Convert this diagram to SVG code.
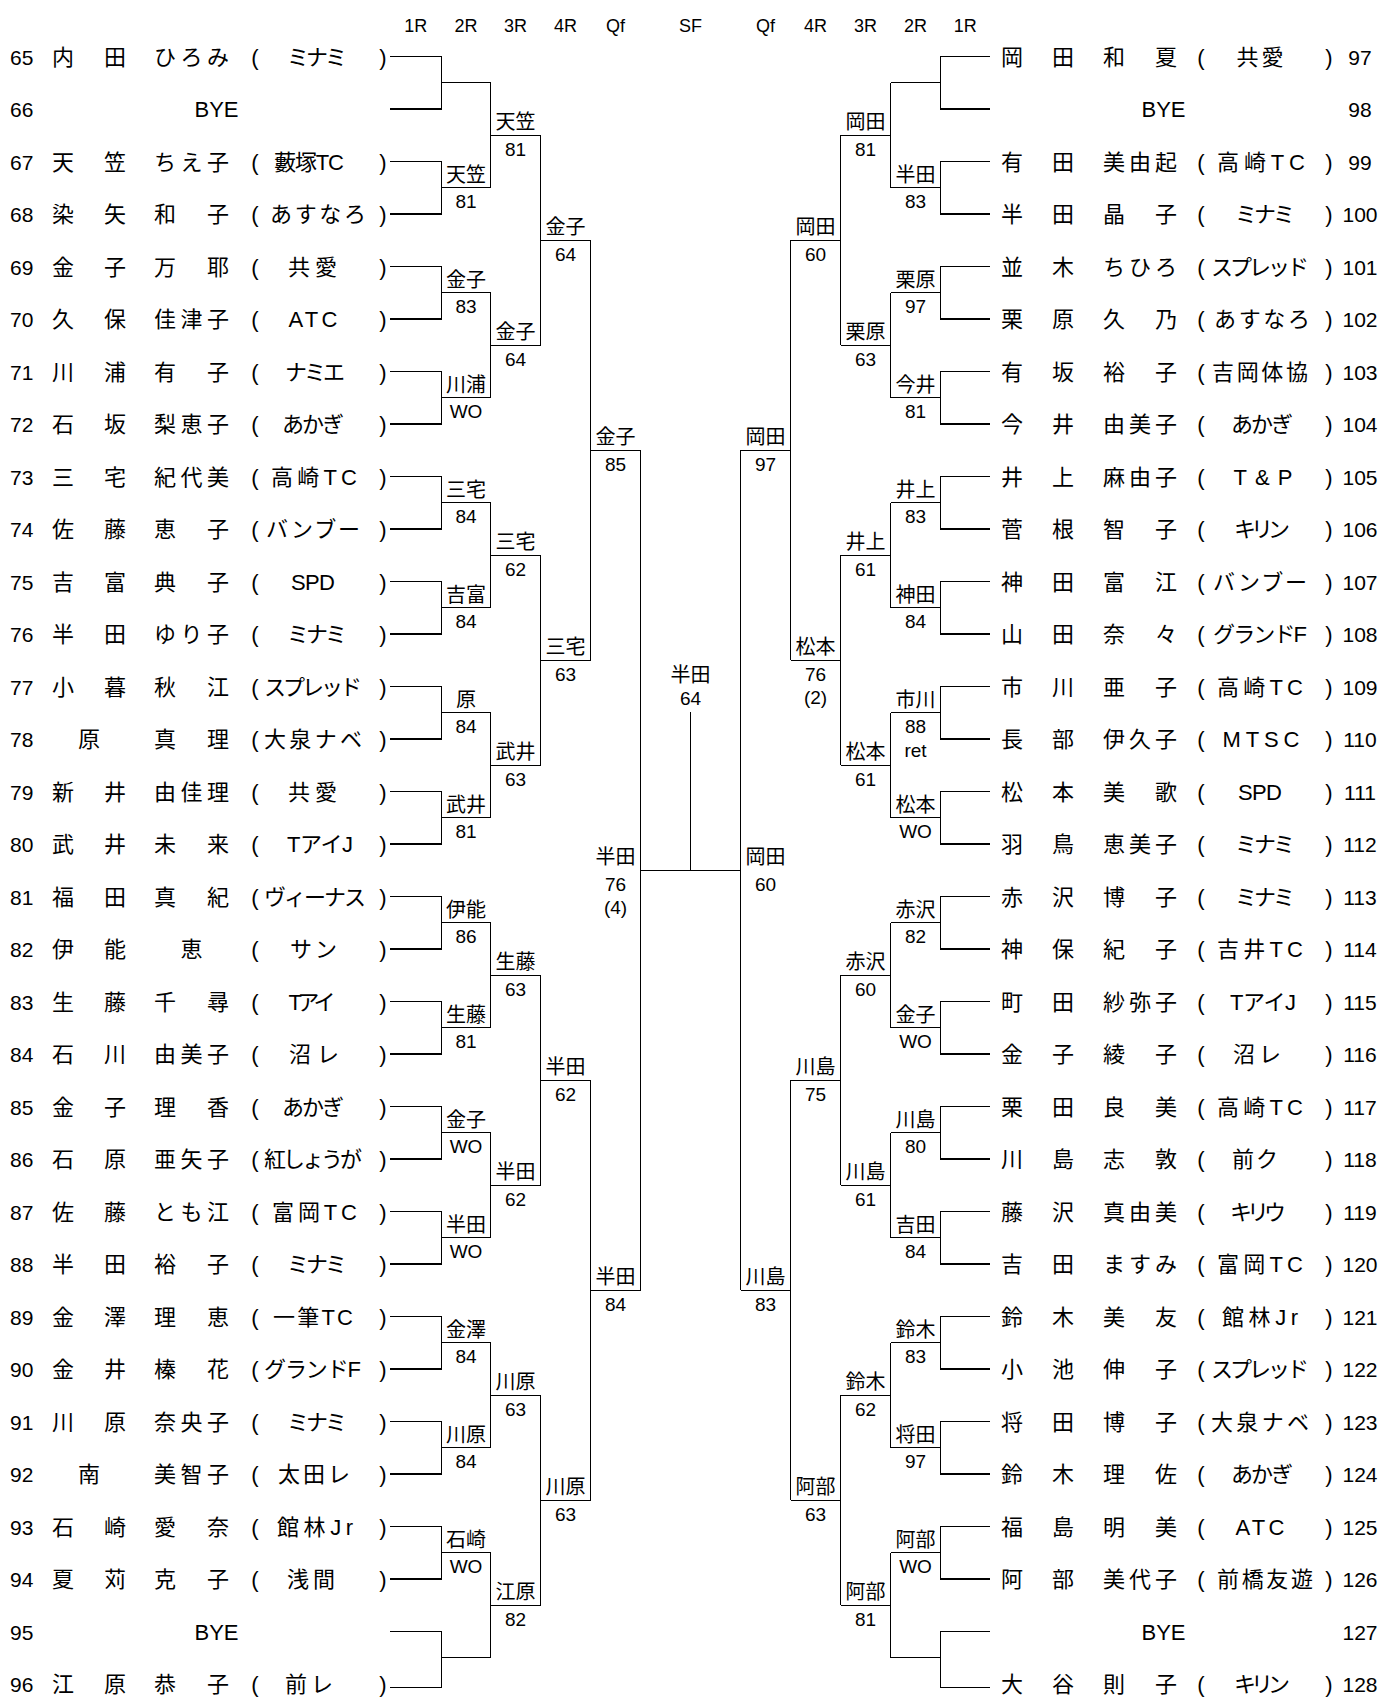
<svg xmlns="http://www.w3.org/2000/svg" width="1395" height="1697" viewBox="0 0 1395 1697">
<style>
text{font-family:"Liberation Sans","Noto Sans CJK JP",sans-serif;fill:#000}
.n{font-size:22px;text-anchor:middle}
.num{font-size:21px}
.nr{font-size:21px;text-anchor:middle}
.lb{font-size:20px;text-anchor:middle}
.sc{font-size:19px;text-anchor:middle}
.hd{font-size:18px;text-anchor:middle}
#connectors path{fill:none;stroke:#000;stroke-width:1.2;shape-rendering:crispEdges}
</style>
<rect width="1395" height="1697" fill="#fff"/>
<g id="headers">
<text class="hd" x="415.75" y="31.5">1R</text><text class="hd" x="466" y="31.5">2R</text><text class="hd" x="515.5" y="31.5">3R</text><text class="hd" x="565.5" y="31.5">4R</text><text class="hd" x="615.5" y="31.5">Qf</text><text class="hd" x="690.5" y="31.5">SF</text><text class="hd" x="765.5" y="31.5">Qf</text><text class="hd" x="815.5" y="31.5">4R</text><text class="hd" x="865.5" y="31.5">3R</text><text class="hd" x="915.5" y="31.5">2R</text><text class="hd" x="965.25" y="31.5">1R</text>
</g>
<g id="connectors">
<path d="M390 56.5H441.5V109H390M441.5 82.75H490.5"/>
<path d="M390 161.5H441.5V214H390M441.5 187.75H490.5"/>
<path d="M390 266.5H441.5V319H390M441.5 292.75H490.5"/>
<path d="M390 371.5H441.5V424H390M441.5 397.75H490.5"/>
<path d="M390 476.5H441.5V529H390M441.5 502.75H490.5"/>
<path d="M390 581.5H441.5V634H390M441.5 607.75H490.5"/>
<path d="M390 686.5H441.5V739H390M441.5 712.75H490.5"/>
<path d="M390 791.5H441.5V844H390M441.5 817.75H490.5"/>
<path d="M390 896.5H441.5V949H390M441.5 922.75H490.5"/>
<path d="M390 1001.5H441.5V1054H390M441.5 1027.75H490.5"/>
<path d="M390 1106.5H441.5V1159H390M441.5 1132.75H490.5"/>
<path d="M390 1211.5H441.5V1264H390M441.5 1237.75H490.5"/>
<path d="M390 1316.5H441.5V1369H390M441.5 1342.75H490.5"/>
<path d="M390 1421.5H441.5V1474H390M441.5 1447.75H490.5"/>
<path d="M390 1526.5H441.5V1579H390M441.5 1552.75H490.5"/>
<path d="M390 1631.5H441.5V1687.5H390M441.5 1657.75H490.5"/>
<path d="M490.5 82.75V187.75M490.5 135.25H540.5"/>
<path d="M490.5 292.75V397.75M490.5 345.25H540.5"/>
<path d="M490.5 502.75V607.75M490.5 555.25H540.5"/>
<path d="M490.5 712.75V817.75M490.5 765.25H540.5"/>
<path d="M490.5 922.75V1027.75M490.5 975.25H540.5"/>
<path d="M490.5 1132.75V1237.75M490.5 1185.25H540.5"/>
<path d="M490.5 1342.75V1447.75M490.5 1395.25H540.5"/>
<path d="M490.5 1552.75V1657.75M490.5 1605.25H540.5"/>
<path d="M540.5 135.25V345.25M540.5 240.25H590.5"/>
<path d="M540.5 555.25V765.25M540.5 660.25H590.5"/>
<path d="M540.5 975.25V1185.25M540.5 1080.25H590.5"/>
<path d="M540.5 1395.25V1605.25M540.5 1500.25H590.5"/>
<path d="M590.5 240.25V660.25M590.5 450.25H640.5"/>
<path d="M590.5 1080.25V1500.25M590.5 1290.25H640.5"/>
<path d="M640.5 450.25V1290.25M640.5 870.25H740.5M740.5 450.25V1290.25"/>
<path d="M690.5 712V870.25"/>
<path d="M790.5 240.25V660.25M790.5 450.25H740.5"/>
<path d="M790.5 1080.25V1500.25M790.5 1290.25H740.5"/>
<path d="M840.5 135.25V345.25M840.5 240.25H790.5"/>
<path d="M840.5 555.25V765.25M840.5 660.25H790.5"/>
<path d="M840.5 975.25V1185.25M840.5 1080.25H790.5"/>
<path d="M840.5 1395.25V1605.25M840.5 1500.25H790.5"/>
<path d="M890.5 82.75V187.75M890.5 135.25H840.5"/>
<path d="M890.5 292.75V397.75M890.5 345.25H840.5"/>
<path d="M890.5 502.75V607.75M890.5 555.25H840.5"/>
<path d="M890.5 712.75V817.75M890.5 765.25H840.5"/>
<path d="M890.5 922.75V1027.75M890.5 975.25H840.5"/>
<path d="M890.5 1132.75V1237.75M890.5 1185.25H840.5"/>
<path d="M890.5 1342.75V1447.75M890.5 1395.25H840.5"/>
<path d="M890.5 1552.75V1657.75M890.5 1605.25H840.5"/>
<path d="M990 56.5H940.5V109H990M940.5 82.75H890.5"/>
<path d="M990 161.5H940.5V214H990M940.5 187.75H890.5"/>
<path d="M990 266.5H940.5V319H990M940.5 292.75H890.5"/>
<path d="M990 371.5H940.5V424H990M940.5 397.75H890.5"/>
<path d="M990 476.5H940.5V529H990M940.5 502.75H890.5"/>
<path d="M990 581.5H940.5V634H990M940.5 607.75H890.5"/>
<path d="M990 686.5H940.5V739H990M940.5 712.75H890.5"/>
<path d="M990 791.5H940.5V844H990M940.5 817.75H890.5"/>
<path d="M990 896.5H940.5V949H990M940.5 922.75H890.5"/>
<path d="M990 1001.5H940.5V1054H990M940.5 1027.75H890.5"/>
<path d="M990 1106.5H940.5V1159H990M940.5 1132.75H890.5"/>
<path d="M990 1211.5H940.5V1264H990M940.5 1237.75H890.5"/>
<path d="M990 1316.5H940.5V1369H990M940.5 1342.75H890.5"/>
<path d="M990 1421.5H940.5V1474H990M940.5 1447.75H890.5"/>
<path d="M990 1526.5H940.5V1579H990M940.5 1552.75H890.5"/>
<path d="M990 1631.5H940.5V1687.5H990M940.5 1657.75H890.5"/>
</g>
<g id="players-left">
<g id="p65"><text class="num" x="10" y="64.5">65</text><text class="n" x="63 115" y="64.5">内田</text><text class="n" x="165 191.5 218" y="64.5">ひろみ</text><text class="n" x="255" y="64.5">(</text><text class="n" x="317" y="64.5" textLength="60" lengthAdjust="spacing">ミナミ</text><text class="n" x="383" y="64.5">)</text></g>
<g id="p66"><text class="num" x="10" y="117">66</text><text class="n" x="216.5" y="117">BYE</text></g>
<g id="p67"><text class="num" x="10" y="169.5">67</text><text class="n" x="63 115" y="169.5">天笠</text><text class="n" x="165 191.5 218" y="169.5">ちえ子</text><text class="n" x="255" y="169.5">(</text><text class="n" x="309" y="169.5" textLength="70" lengthAdjust="spacing">藪塚TC</text><text class="n" x="383" y="169.5">)</text></g>
<g id="p68"><text class="num" x="10" y="222">68</text><text class="n" x="63 115" y="222">染矢</text><text class="n" x="165 218" y="222">和子</text><text class="n" x="255" y="222">(</text><text class="n" x="318" y="222" textLength="96" lengthAdjust="spacing">あすなろ</text><text class="n" x="383" y="222">)</text></g>
<g id="p69"><text class="num" x="10" y="274.5">69</text><text class="n" x="63 115" y="274.5">金子</text><text class="n" x="165 218" y="274.5">万耶</text><text class="n" x="255" y="274.5">(</text><text class="n" x="312.5" y="274.5" textLength="49" lengthAdjust="spacing">共愛</text><text class="n" x="383" y="274.5">)</text></g>
<g id="p70"><text class="num" x="10" y="327">70</text><text class="n" x="63 115" y="327">久保</text><text class="n" x="165 191.5 218" y="327">佳津子</text><text class="n" x="255" y="327">(</text><text class="n" x="313" y="327" textLength="49" lengthAdjust="spacing">ATC</text><text class="n" x="383" y="327">)</text></g>
<g id="p71"><text class="num" x="10" y="379.5">71</text><text class="n" x="63 115" y="379.5">川浦</text><text class="n" x="165 218" y="379.5">有子</text><text class="n" x="255" y="379.5">(</text><text class="n" x="315" y="379.5" textLength="60" lengthAdjust="spacing">ナミエ</text><text class="n" x="383" y="379.5">)</text></g>
<g id="p72"><text class="num" x="10" y="432">72</text><text class="n" x="63 115" y="432">石坂</text><text class="n" x="165 191.5 218" y="432">梨恵子</text><text class="n" x="255" y="432">(</text><text class="n" x="313" y="432" textLength="62" lengthAdjust="spacing">あかぎ</text><text class="n" x="383" y="432">)</text></g>
<g id="p73"><text class="num" x="10" y="484.5">73</text><text class="n" x="63 115" y="484.5">三宅</text><text class="n" x="165 191.5 218" y="484.5">紀代美</text><text class="n" x="255" y="484.5">(</text><text class="n" x="314" y="484.5" textLength="86" lengthAdjust="spacing">高崎TC</text><text class="n" x="383" y="484.5">)</text></g>
<g id="p74"><text class="num" x="10" y="537">74</text><text class="n" x="63 115" y="537">佐藤</text><text class="n" x="165 218" y="537">恵子</text><text class="n" x="255" y="537">(</text><text class="n" x="313" y="537" textLength="94" lengthAdjust="spacing">バンブー</text><text class="n" x="383" y="537">)</text></g>
<g id="p75"><text class="num" x="10" y="589.5">75</text><text class="n" x="63 115" y="589.5">吉富</text><text class="n" x="165 218" y="589.5">典子</text><text class="n" x="255" y="589.5">(</text><text class="n" x="313" y="589.5" textLength="44" lengthAdjust="spacing">SPD</text><text class="n" x="383" y="589.5">)</text></g>
<g id="p76"><text class="num" x="10" y="642">76</text><text class="n" x="63 115" y="642">半田</text><text class="n" x="165 191.5 218" y="642">ゆり子</text><text class="n" x="255" y="642">(</text><text class="n" x="317" y="642" textLength="60" lengthAdjust="spacing">ミナミ</text><text class="n" x="383" y="642">)</text></g>
<g id="p77"><text class="num" x="10" y="694.5">77</text><text class="n" x="63 115" y="694.5">小暮</text><text class="n" x="165 218" y="694.5">秋江</text><text class="n" x="255" y="694.5">(</text><text class="n" x="313" y="694.5" textLength="98" lengthAdjust="spacing">スプレッド</text><text class="n" x="383" y="694.5">)</text></g>
<g id="p78"><text class="num" x="10" y="747">78</text><text class="n" x="89" y="747">原</text><text class="n" x="165 218" y="747">真理</text><text class="n" x="255" y="747">(</text><text class="n" x="313" y="747" textLength="98" lengthAdjust="spacing">大泉ナベ</text><text class="n" x="383" y="747">)</text></g>
<g id="p79"><text class="num" x="10" y="799.5">79</text><text class="n" x="63 115" y="799.5">新井</text><text class="n" x="165 191.5 218" y="799.5">由佳理</text><text class="n" x="255" y="799.5">(</text><text class="n" x="312.5" y="799.5" textLength="49" lengthAdjust="spacing">共愛</text><text class="n" x="383" y="799.5">)</text></g>
<g id="p80"><text class="num" x="10" y="852">80</text><text class="n" x="63 115" y="852">武井</text><text class="n" x="165 218" y="852">未来</text><text class="n" x="255" y="852">(</text><text class="n" x="320" y="852" textLength="66" lengthAdjust="spacing">TアイJ</text><text class="n" x="383" y="852">)</text></g>
<g id="p81"><text class="num" x="10" y="904.5">81</text><text class="n" x="63 115" y="904.5">福田</text><text class="n" x="165 218" y="904.5">真紀</text><text class="n" x="255" y="904.5">(</text><text class="n" x="315" y="904.5" textLength="102" lengthAdjust="spacing">ヴィーナス</text><text class="n" x="383" y="904.5">)</text></g>
<g id="p82"><text class="num" x="10" y="957">82</text><text class="n" x="63 115" y="957">伊能</text><text class="n" x="191.5" y="957">恵</text><text class="n" x="255" y="957">(</text><text class="n" x="313.5" y="957" textLength="47" lengthAdjust="spacing">サン</text><text class="n" x="383" y="957">)</text></g>
<g id="p83"><text class="num" x="10" y="1009.5">83</text><text class="n" x="63 115" y="1009.5">生藤</text><text class="n" x="165 218" y="1009.5">千尋</text><text class="n" x="255" y="1009.5">(</text><text class="n" x="312" y="1009.5" textLength="47" lengthAdjust="spacing">Tアイ</text><text class="n" x="383" y="1009.5">)</text></g>
<g id="p84"><text class="num" x="10" y="1062">84</text><text class="n" x="63 115" y="1062">石川</text><text class="n" x="165 191.5 218" y="1062">由美子</text><text class="n" x="255" y="1062">(</text><text class="n" x="314" y="1062" textLength="50" lengthAdjust="spacing">沼レ</text><text class="n" x="383" y="1062">)</text></g>
<g id="p85"><text class="num" x="10" y="1114.5">85</text><text class="n" x="63 115" y="1114.5">金子</text><text class="n" x="165 218" y="1114.5">理香</text><text class="n" x="255" y="1114.5">(</text><text class="n" x="313" y="1114.5" textLength="62" lengthAdjust="spacing">あかぎ</text><text class="n" x="383" y="1114.5">)</text></g>
<g id="p86"><text class="num" x="10" y="1167">86</text><text class="n" x="63 115" y="1167">石原</text><text class="n" x="165 191.5 218" y="1167">亜矢子</text><text class="n" x="255" y="1167">(</text><text class="n" x="313" y="1167" textLength="98" lengthAdjust="spacing">紅しょうが</text><text class="n" x="383" y="1167">)</text></g>
<g id="p87"><text class="num" x="10" y="1219.5">87</text><text class="n" x="63 115" y="1219.5">佐藤</text><text class="n" x="165 191.5 218" y="1219.5">とも江</text><text class="n" x="255" y="1219.5">(</text><text class="n" x="314.5" y="1219.5" textLength="85" lengthAdjust="spacing">富岡TC</text><text class="n" x="383" y="1219.5">)</text></g>
<g id="p88"><text class="num" x="10" y="1272">88</text><text class="n" x="63 115" y="1272">半田</text><text class="n" x="165 218" y="1272">裕子</text><text class="n" x="255" y="1272">(</text><text class="n" x="317" y="1272" textLength="60" lengthAdjust="spacing">ミナミ</text><text class="n" x="383" y="1272">)</text></g>
<g id="p89"><text class="num" x="10" y="1324.5">89</text><text class="n" x="63 115" y="1324.5">金澤</text><text class="n" x="165 218" y="1324.5">理恵</text><text class="n" x="255" y="1324.5">(</text><text class="n" x="313" y="1324.5" textLength="80" lengthAdjust="spacing">一筆TC</text><text class="n" x="383" y="1324.5">)</text></g>
<g id="p90"><text class="num" x="10" y="1377">90</text><text class="n" x="63 115" y="1377">金井</text><text class="n" x="165 218" y="1377">榛花</text><text class="n" x="255" y="1377">(</text><text class="n" x="312.5" y="1377" textLength="97" lengthAdjust="spacing">グランドF</text><text class="n" x="383" y="1377">)</text></g>
<g id="p91"><text class="num" x="10" y="1429.5">91</text><text class="n" x="63 115" y="1429.5">川原</text><text class="n" x="165 191.5 218" y="1429.5">奈央子</text><text class="n" x="255" y="1429.5">(</text><text class="n" x="317" y="1429.5" textLength="60" lengthAdjust="spacing">ミナミ</text><text class="n" x="383" y="1429.5">)</text></g>
<g id="p92"><text class="num" x="10" y="1482">92</text><text class="n" x="89" y="1482">南</text><text class="n" x="165 191.5 218" y="1482">美智子</text><text class="n" x="255" y="1482">(</text><text class="n" x="314" y="1482" textLength="72" lengthAdjust="spacing">太田レ</text><text class="n" x="383" y="1482">)</text></g>
<g id="p93"><text class="num" x="10" y="1534.5">93</text><text class="n" x="63 115" y="1534.5">石崎</text><text class="n" x="165 218" y="1534.5">愛奈</text><text class="n" x="255" y="1534.5">(</text><text class="n" x="315" y="1534.5" textLength="76" lengthAdjust="spacing">館林Jr</text><text class="n" x="383" y="1534.5">)</text></g>
<g id="p94"><text class="num" x="10" y="1587">94</text><text class="n" x="63 115" y="1587">夏苅</text><text class="n" x="165 218" y="1587">克子</text><text class="n" x="255" y="1587">(</text><text class="n" x="311" y="1587" textLength="48" lengthAdjust="spacing">浅間</text><text class="n" x="383" y="1587">)</text></g>
<g id="p95"><text class="num" x="10" y="1639.5">95</text><text class="n" x="216.5" y="1639.5">BYE</text></g>
<g id="p96"><text class="num" x="10" y="1692">96</text><text class="n" x="63 115" y="1692">江原</text><text class="n" x="165 218" y="1692">恭子</text><text class="n" x="255" y="1692">(</text><text class="n" x="309" y="1692" textLength="48" lengthAdjust="spacing">前レ</text><text class="n" x="383" y="1692">)</text></g>
</g>
<g id="players-right">
<g id="p97"><text class="n" x="1012 1063" y="64.5">岡田</text><text class="n" x="1114 1166" y="64.5">和夏</text><text class="n" x="1201" y="64.5">(</text><text class="n" x="1260" y="64.5" textLength="47" lengthAdjust="spacing">共愛</text><text class="n" x="1329" y="64.5">)</text><text class="nr" x="1360" y="64.5">97</text></g>
<g id="p98"><text class="n" x="1163.5" y="117">BYE</text><text class="nr" x="1360" y="117">98</text></g>
<g id="p99"><text class="n" x="1012 1063" y="169.5">有田</text><text class="n" x="1114 1140 1166" y="169.5">美由起</text><text class="n" x="1201" y="169.5">(</text><text class="n" x="1261" y="169.5" textLength="88" lengthAdjust="spacing">高崎TC</text><text class="n" x="1329" y="169.5">)</text><text class="nr" x="1360" y="169.5">99</text></g>
<g id="p100"><text class="n" x="1012 1063" y="222">半田</text><text class="n" x="1114 1166" y="222">晶子</text><text class="n" x="1201" y="222">(</text><text class="n" x="1265" y="222" textLength="60" lengthAdjust="spacing">ミナミ</text><text class="n" x="1329" y="222">)</text><text class="nr" x="1360" y="222">100</text></g>
<g id="p101"><text class="n" x="1012 1063" y="274.5">並木</text><text class="n" x="1114 1140 1166" y="274.5">ちひろ</text><text class="n" x="1201" y="274.5">(</text><text class="n" x="1260" y="274.5" textLength="98" lengthAdjust="spacing">スプレッド</text><text class="n" x="1329" y="274.5">)</text><text class="nr" x="1360" y="274.5">101</text></g>
<g id="p102"><text class="n" x="1012 1063" y="327">栗原</text><text class="n" x="1114 1166" y="327">久乃</text><text class="n" x="1201" y="327">(</text><text class="n" x="1262" y="327" textLength="96" lengthAdjust="spacing">あすなろ</text><text class="n" x="1329" y="327">)</text><text class="nr" x="1360" y="327">102</text></g>
<g id="p103"><text class="n" x="1012 1063" y="379.5">有坂</text><text class="n" x="1114 1166" y="379.5">裕子</text><text class="n" x="1201" y="379.5">(</text><text class="n" x="1260" y="379.5" textLength="96" lengthAdjust="spacing">吉岡体協</text><text class="n" x="1329" y="379.5">)</text><text class="nr" x="1360" y="379.5">103</text></g>
<g id="p104"><text class="n" x="1012 1063" y="432">今井</text><text class="n" x="1114 1140 1166" y="432">由美子</text><text class="n" x="1201" y="432">(</text><text class="n" x="1262" y="432" textLength="62" lengthAdjust="spacing">あかぎ</text><text class="n" x="1329" y="432">)</text><text class="nr" x="1360" y="432">104</text></g>
<g id="p105"><text class="n" x="1012 1063" y="484.5">井上</text><text class="n" x="1114 1140 1166" y="484.5">麻由子</text><text class="n" x="1201" y="484.5">(</text><text class="n" x="1263" y="484.5" textLength="59" lengthAdjust="spacing">T&amp;P</text><text class="n" x="1329" y="484.5">)</text><text class="nr" x="1360" y="484.5">105</text></g>
<g id="p106"><text class="n" x="1012 1063" y="537">菅根</text><text class="n" x="1114 1166" y="537">智子</text><text class="n" x="1201" y="537">(</text><text class="n" x="1262" y="537" textLength="56" lengthAdjust="spacing">キリン</text><text class="n" x="1329" y="537">)</text><text class="nr" x="1360" y="537">106</text></g>
<g id="p107"><text class="n" x="1012 1063" y="589.5">神田</text><text class="n" x="1114 1166" y="589.5">富江</text><text class="n" x="1201" y="589.5">(</text><text class="n" x="1260" y="589.5" textLength="94" lengthAdjust="spacing">バンブー</text><text class="n" x="1329" y="589.5">)</text><text class="nr" x="1360" y="589.5">107</text></g>
<g id="p108"><text class="n" x="1012 1063" y="642">山田</text><text class="n" x="1114 1166" y="642">奈々</text><text class="n" x="1201" y="642">(</text><text class="n" x="1260" y="642" textLength="94" lengthAdjust="spacing">グランドF</text><text class="n" x="1329" y="642">)</text><text class="nr" x="1360" y="642">108</text></g>
<g id="p109"><text class="n" x="1012 1063" y="694.5">市川</text><text class="n" x="1114 1166" y="694.5">亜子</text><text class="n" x="1201" y="694.5">(</text><text class="n" x="1260" y="694.5" textLength="86" lengthAdjust="spacing">高崎TC</text><text class="n" x="1329" y="694.5">)</text><text class="nr" x="1360" y="694.5">109</text></g>
<g id="p110"><text class="n" x="1012 1063" y="747">長部</text><text class="n" x="1114 1140 1166" y="747">伊久子</text><text class="n" x="1201" y="747">(</text><text class="n" x="1261" y="747" textLength="77" lengthAdjust="spacing">MTSC</text><text class="n" x="1329" y="747">)</text><text class="nr" x="1360" y="747">110</text></g>
<g id="p111"><text class="n" x="1012 1063" y="799.5">松本</text><text class="n" x="1114 1166" y="799.5">美歌</text><text class="n" x="1201" y="799.5">(</text><text class="n" x="1260" y="799.5" textLength="44" lengthAdjust="spacing">SPD</text><text class="n" x="1329" y="799.5">)</text><text class="nr" x="1360" y="799.5">111</text></g>
<g id="p112"><text class="n" x="1012 1063" y="852">羽鳥</text><text class="n" x="1114 1140 1166" y="852">恵美子</text><text class="n" x="1201" y="852">(</text><text class="n" x="1265" y="852" textLength="60" lengthAdjust="spacing">ミナミ</text><text class="n" x="1329" y="852">)</text><text class="nr" x="1360" y="852">112</text></g>
<g id="p113"><text class="n" x="1012 1063" y="904.5">赤沢</text><text class="n" x="1114 1166" y="904.5">博子</text><text class="n" x="1201" y="904.5">(</text><text class="n" x="1265" y="904.5" textLength="60" lengthAdjust="spacing">ミナミ</text><text class="n" x="1329" y="904.5">)</text><text class="nr" x="1360" y="904.5">113</text></g>
<g id="p114"><text class="n" x="1012 1063" y="957">神保</text><text class="n" x="1114 1166" y="957">紀子</text><text class="n" x="1201" y="957">(</text><text class="n" x="1260" y="957" textLength="86" lengthAdjust="spacing">吉井TC</text><text class="n" x="1329" y="957">)</text><text class="nr" x="1360" y="957">114</text></g>
<g id="p115"><text class="n" x="1012 1063" y="1009.5">町田</text><text class="n" x="1114 1140 1166" y="1009.5">紗弥子</text><text class="n" x="1201" y="1009.5">(</text><text class="n" x="1263" y="1009.5" textLength="66" lengthAdjust="spacing">TアイJ</text><text class="n" x="1329" y="1009.5">)</text><text class="nr" x="1360" y="1009.5">115</text></g>
<g id="p116"><text class="n" x="1012 1063" y="1062">金子</text><text class="n" x="1114 1166" y="1062">綾子</text><text class="n" x="1201" y="1062">(</text><text class="n" x="1257" y="1062" textLength="48" lengthAdjust="spacing">沼レ</text><text class="n" x="1329" y="1062">)</text><text class="nr" x="1360" y="1062">116</text></g>
<g id="p117"><text class="n" x="1012 1063" y="1114.5">栗田</text><text class="n" x="1114 1166" y="1114.5">良美</text><text class="n" x="1201" y="1114.5">(</text><text class="n" x="1260" y="1114.5" textLength="86" lengthAdjust="spacing">高崎TC</text><text class="n" x="1329" y="1114.5">)</text><text class="nr" x="1360" y="1114.5">117</text></g>
<g id="p118"><text class="n" x="1012 1063" y="1167">川島</text><text class="n" x="1114 1166" y="1167">志敦</text><text class="n" x="1201" y="1167">(</text><text class="n" x="1255" y="1167" textLength="46" lengthAdjust="spacing">前ク</text><text class="n" x="1329" y="1167">)</text><text class="nr" x="1360" y="1167">118</text></g>
<g id="p119"><text class="n" x="1012 1063" y="1219.5">藤沢</text><text class="n" x="1114 1140 1166" y="1219.5">真由美</text><text class="n" x="1201" y="1219.5">(</text><text class="n" x="1258" y="1219.5" textLength="56" lengthAdjust="spacing">キリウ</text><text class="n" x="1329" y="1219.5">)</text><text class="nr" x="1360" y="1219.5">119</text></g>
<g id="p120"><text class="n" x="1012 1063" y="1272">吉田</text><text class="n" x="1114 1140 1166" y="1272">ますみ</text><text class="n" x="1201" y="1272">(</text><text class="n" x="1260" y="1272" textLength="86" lengthAdjust="spacing">富岡TC</text><text class="n" x="1329" y="1272">)</text><text class="nr" x="1360" y="1272">120</text></g>
<g id="p121"><text class="n" x="1012 1063" y="1324.5">鈴木</text><text class="n" x="1114 1166" y="1324.5">美友</text><text class="n" x="1201" y="1324.5">(</text><text class="n" x="1260" y="1324.5" textLength="76" lengthAdjust="spacing">館林Jr</text><text class="n" x="1329" y="1324.5">)</text><text class="nr" x="1360" y="1324.5">121</text></g>
<g id="p122"><text class="n" x="1012 1063" y="1377">小池</text><text class="n" x="1114 1166" y="1377">伸子</text><text class="n" x="1201" y="1377">(</text><text class="n" x="1260" y="1377" textLength="98" lengthAdjust="spacing">スプレッド</text><text class="n" x="1329" y="1377">)</text><text class="nr" x="1360" y="1377">122</text></g>
<g id="p123"><text class="n" x="1012 1063" y="1429.5">将田</text><text class="n" x="1114 1166" y="1429.5">博子</text><text class="n" x="1201" y="1429.5">(</text><text class="n" x="1260" y="1429.5" textLength="98" lengthAdjust="spacing">大泉ナベ</text><text class="n" x="1329" y="1429.5">)</text><text class="nr" x="1360" y="1429.5">123</text></g>
<g id="p124"><text class="n" x="1012 1063" y="1482">鈴木</text><text class="n" x="1114 1166" y="1482">理佐</text><text class="n" x="1201" y="1482">(</text><text class="n" x="1262" y="1482" textLength="62" lengthAdjust="spacing">あかぎ</text><text class="n" x="1329" y="1482">)</text><text class="nr" x="1360" y="1482">124</text></g>
<g id="p125"><text class="n" x="1012 1063" y="1534.5">福島</text><text class="n" x="1114 1166" y="1534.5">明美</text><text class="n" x="1201" y="1534.5">(</text><text class="n" x="1260" y="1534.5" textLength="49" lengthAdjust="spacing">ATC</text><text class="n" x="1329" y="1534.5">)</text><text class="nr" x="1360" y="1534.5">125</text></g>
<g id="p126"><text class="n" x="1012 1063" y="1587">阿部</text><text class="n" x="1114 1140 1166" y="1587">美代子</text><text class="n" x="1201" y="1587">(</text><text class="n" x="1265" y="1587" textLength="96" lengthAdjust="spacing">前橋友遊</text><text class="n" x="1329" y="1587">)</text><text class="nr" x="1360" y="1587">126</text></g>
<g id="p127"><text class="n" x="1163.5" y="1639.5">BYE</text><text class="nr" x="1360" y="1639.5">127</text></g>
<g id="p128"><text class="n" x="1012 1063" y="1692">大谷</text><text class="n" x="1114 1166" y="1692">則子</text><text class="n" x="1201" y="1692">(</text><text class="n" x="1262" y="1692" textLength="56" lengthAdjust="spacing">キリン</text><text class="n" x="1329" y="1692">)</text><text class="nr" x="1360" y="1692">128</text></g>
</g>
<g id="winners-left">
<g id="wl1-1"><text class="lb" x="466" y="181.75">天笠</text><text class="sc" x="466" y="208.25">81</text></g>
<g id="wl1-2"><text class="lb" x="466" y="286.75">金子</text><text class="sc" x="466" y="313.25">83</text></g>
<g id="wl1-3"><text class="lb" x="466" y="391.75">川浦</text><text class="sc" x="466" y="418.25">WO</text></g>
<g id="wl1-4"><text class="lb" x="466" y="496.75">三宅</text><text class="sc" x="466" y="523.25">84</text></g>
<g id="wl1-5"><text class="lb" x="466" y="601.75">吉富</text><text class="sc" x="466" y="628.25">84</text></g>
<g id="wl1-6"><text class="lb" x="466" y="706.75">原</text><text class="sc" x="466" y="733.25">84</text></g>
<g id="wl1-7"><text class="lb" x="466" y="811.75">武井</text><text class="sc" x="466" y="838.25">81</text></g>
<g id="wl1-8"><text class="lb" x="466" y="916.75">伊能</text><text class="sc" x="466" y="943.25">86</text></g>
<g id="wl1-9"><text class="lb" x="466" y="1021.75">生藤</text><text class="sc" x="466" y="1048.25">81</text></g>
<g id="wl1-10"><text class="lb" x="466" y="1126.75">金子</text><text class="sc" x="466" y="1153.25">WO</text></g>
<g id="wl1-11"><text class="lb" x="466" y="1231.75">半田</text><text class="sc" x="466" y="1258.25">WO</text></g>
<g id="wl1-12"><text class="lb" x="466" y="1336.75">金澤</text><text class="sc" x="466" y="1363.25">84</text></g>
<g id="wl1-13"><text class="lb" x="466" y="1441.75">川原</text><text class="sc" x="466" y="1468.25">84</text></g>
<g id="wl1-14"><text class="lb" x="466" y="1546.75">石崎</text><text class="sc" x="466" y="1573.25">WO</text></g>
<g id="wl2-0"><text class="lb" x="515.5" y="129.25">天笠</text><text class="sc" x="515.5" y="155.75">81</text></g>
<g id="wl2-1"><text class="lb" x="515.5" y="339.25">金子</text><text class="sc" x="515.5" y="365.75">64</text></g>
<g id="wl2-2"><text class="lb" x="515.5" y="549.25">三宅</text><text class="sc" x="515.5" y="575.75">62</text></g>
<g id="wl2-3"><text class="lb" x="515.5" y="759.25">武井</text><text class="sc" x="515.5" y="785.75">63</text></g>
<g id="wl2-4"><text class="lb" x="515.5" y="969.25">生藤</text><text class="sc" x="515.5" y="995.75">63</text></g>
<g id="wl2-5"><text class="lb" x="515.5" y="1179.25">半田</text><text class="sc" x="515.5" y="1205.75">62</text></g>
<g id="wl2-6"><text class="lb" x="515.5" y="1389.25">川原</text><text class="sc" x="515.5" y="1415.75">63</text></g>
<g id="wl2-7"><text class="lb" x="515.5" y="1599.25">江原</text><text class="sc" x="515.5" y="1625.75">82</text></g>
<g id="wl3-0"><text class="lb" x="565.5" y="234.25">金子</text><text class="sc" x="565.5" y="260.75">64</text></g>
<g id="wl3-1"><text class="lb" x="565.5" y="654.25">三宅</text><text class="sc" x="565.5" y="680.75">63</text></g>
<g id="wl3-2"><text class="lb" x="565.5" y="1074.25">半田</text><text class="sc" x="565.5" y="1100.75">62</text></g>
<g id="wl3-3"><text class="lb" x="565.5" y="1494.25">川原</text><text class="sc" x="565.5" y="1520.75">63</text></g>
<g id="wl4-0"><text class="lb" x="615.5" y="444.25">金子</text><text class="sc" x="615.5" y="470.75">85</text></g>
<g id="wl4-1"><text class="lb" x="615.5" y="1284.25">半田</text><text class="sc" x="615.5" y="1310.75">84</text></g>
<g id="wsf-left"><text class="lb" x="615.5" y="864.25">半田</text><text class="sc" x="615.5" y="890.75">76</text><text class="sc" x="615.5" y="914.25">(4)</text></g>
</g>
<g id="champion"><text class="lb" x="690.5" y="682">半田</text><text class="sc" x="690.5" y="705">64</text></g>
<g id="winners-right">
<g id="wsf-right"><text class="lb" x="765.5" y="864.25">岡田</text><text class="sc" x="765.5" y="890.75">60</text></g>
<g id="wr4-0"><text class="lb" x="765.5" y="444.25">岡田</text><text class="sc" x="765.5" y="470.75">97</text></g>
<g id="wr4-1"><text class="lb" x="765.5" y="1284.25">川島</text><text class="sc" x="765.5" y="1310.75">83</text></g>
<g id="wr3-0"><text class="lb" x="815.5" y="234.25">岡田</text><text class="sc" x="815.5" y="260.75">60</text></g>
<g id="wr3-1"><text class="lb" x="815.5" y="654.25">松本</text><text class="sc" x="815.5" y="680.75">76</text><text class="sc" x="815.5" y="704.25">(2)</text></g>
<g id="wr3-2"><text class="lb" x="815.5" y="1074.25">川島</text><text class="sc" x="815.5" y="1100.75">75</text></g>
<g id="wr3-3"><text class="lb" x="815.5" y="1494.25">阿部</text><text class="sc" x="815.5" y="1520.75">63</text></g>
<g id="wr2-0"><text class="lb" x="865.5" y="129.25">岡田</text><text class="sc" x="865.5" y="155.75">81</text></g>
<g id="wr2-1"><text class="lb" x="865.5" y="339.25">栗原</text><text class="sc" x="865.5" y="365.75">63</text></g>
<g id="wr2-2"><text class="lb" x="865.5" y="549.25">井上</text><text class="sc" x="865.5" y="575.75">61</text></g>
<g id="wr2-3"><text class="lb" x="865.5" y="759.25">松本</text><text class="sc" x="865.5" y="785.75">61</text></g>
<g id="wr2-4"><text class="lb" x="865.5" y="969.25">赤沢</text><text class="sc" x="865.5" y="995.75">60</text></g>
<g id="wr2-5"><text class="lb" x="865.5" y="1179.25">川島</text><text class="sc" x="865.5" y="1205.75">61</text></g>
<g id="wr2-6"><text class="lb" x="865.5" y="1389.25">鈴木</text><text class="sc" x="865.5" y="1415.75">62</text></g>
<g id="wr2-7"><text class="lb" x="865.5" y="1599.25">阿部</text><text class="sc" x="865.5" y="1625.75">81</text></g>
<g id="wr1-1"><text class="lb" x="915.5" y="181.75">半田</text><text class="sc" x="915.5" y="208.25">83</text></g>
<g id="wr1-2"><text class="lb" x="915.5" y="286.75">栗原</text><text class="sc" x="915.5" y="313.25">97</text></g>
<g id="wr1-3"><text class="lb" x="915.5" y="391.75">今井</text><text class="sc" x="915.5" y="418.25">81</text></g>
<g id="wr1-4"><text class="lb" x="915.5" y="496.75">井上</text><text class="sc" x="915.5" y="523.25">83</text></g>
<g id="wr1-5"><text class="lb" x="915.5" y="601.75">神田</text><text class="sc" x="915.5" y="628.25">84</text></g>
<g id="wr1-6"><text class="lb" x="915.5" y="706.75">市川</text><text class="sc" x="915.5" y="733.25">88</text><text class="sc" x="915.5" y="756.75">ret</text></g>
<g id="wr1-7"><text class="lb" x="915.5" y="811.75">松本</text><text class="sc" x="915.5" y="838.25">WO</text></g>
<g id="wr1-8"><text class="lb" x="915.5" y="916.75">赤沢</text><text class="sc" x="915.5" y="943.25">82</text></g>
<g id="wr1-9"><text class="lb" x="915.5" y="1021.75">金子</text><text class="sc" x="915.5" y="1048.25">WO</text></g>
<g id="wr1-10"><text class="lb" x="915.5" y="1126.75">川島</text><text class="sc" x="915.5" y="1153.25">80</text></g>
<g id="wr1-11"><text class="lb" x="915.5" y="1231.75">吉田</text><text class="sc" x="915.5" y="1258.25">84</text></g>
<g id="wr1-12"><text class="lb" x="915.5" y="1336.75">鈴木</text><text class="sc" x="915.5" y="1363.25">83</text></g>
<g id="wr1-13"><text class="lb" x="915.5" y="1441.75">将田</text><text class="sc" x="915.5" y="1468.25">97</text></g>
<g id="wr1-14"><text class="lb" x="915.5" y="1546.75">阿部</text><text class="sc" x="915.5" y="1573.25">WO</text></g>
</g>
</svg>
